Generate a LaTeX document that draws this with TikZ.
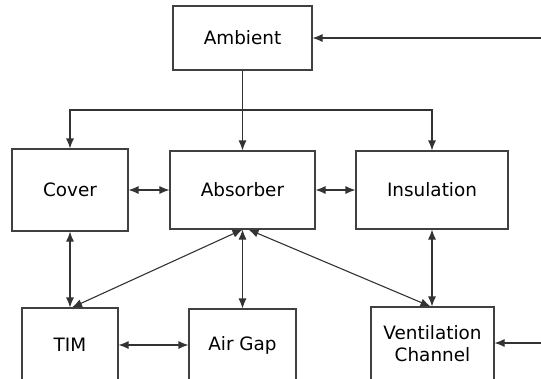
\documentclass[tikz,border=0pt]{standalone}
\usepackage{fontspec}
\setsansfont{DejaVu Sans}
\usetikzlibrary{arrows.meta}
\tikzset{
  /tikz/.cd,
  block/.style={draw=black!75,line width=1.1pt,fill=white,align=center,font=\sffamily\fontsize{18.4}{22}\selectfont,inner sep=0pt},
  flow/.style={draw=black!80,line width=1.1pt,-{Latex[length=10pt,width=8pt]}},
  both/.style={flow,{Latex[length=10pt,width=8pt]}-{Latex[length=10pt,width=8pt]}}
}

\begin{document}
\begin{tikzpicture}[x=1pt,y=-1pt]
      \clip (0,0) rectangle (541,378);
      \useasboundingbox (0,0) rectangle (541,378);

      \node[block,minimum width=139pt,minimum height=64pt] (ambient) at (242.5,38) {Ambient};
      \node[block,minimum width=116pt,minimum height=82pt] (cover) at (70,190) {Cover};
      \node[block,minimum width=145pt,minimum height=78pt] (absorber) at (242.5,190) {Absorber};
      \node[block,minimum width=152pt,minimum height=78pt] (insulation) at (432,190) {Insulation};
      \node[block,minimum width=96pt,minimum height=74pt] (tim) at (70,345) {TIM};
      \node[block,minimum width=107pt,minimum height=72pt] (airgap) at (242.5,345) {Air Gap};
      \node[block,minimum width=123pt,minimum height=74pt] (vent) at (432.5,344) {Ventilation\\Channel};

      \coordinate (split) at (242.5,110);
      \coordinate (ambin) at (541,38);
      \coordinate (ventin) at (541,343);

      % from the ambient
      \draw[draw=black!80,line width=1.1pt] (ambient.south) -- (split);
      \draw[flow] (split) -| (cover.north);
      \draw[flow] (split) -- (absorber.north);
      \draw[flow] (split) -| (insulation.north);
      \draw[flow] (ambin) -- (ambient.east);
      \draw[flow] (ventin) -- (vent.east|-ventin);

      % exchanges
      \draw[both] (cover.east) -- (absorber.west);
      \draw[both] (absorber.east) -- (insulation.west);
      \draw[both] (cover.south) -- (tim.north);
      \draw[both] (absorber.south) -- ([xshift=2pt]tim.north);
      \draw[both] (absorber.south) -- (airgap.north);
      \draw[both] ([xshift=6pt]absorber.south) -- ([xshift=-2pt]vent.north);
      \draw[both] (insulation.south) -- (insulation.south|-vent.north);
      \draw[both] (tim.east) -- (airgap.west);
    \end{tikzpicture}
\end{document}
